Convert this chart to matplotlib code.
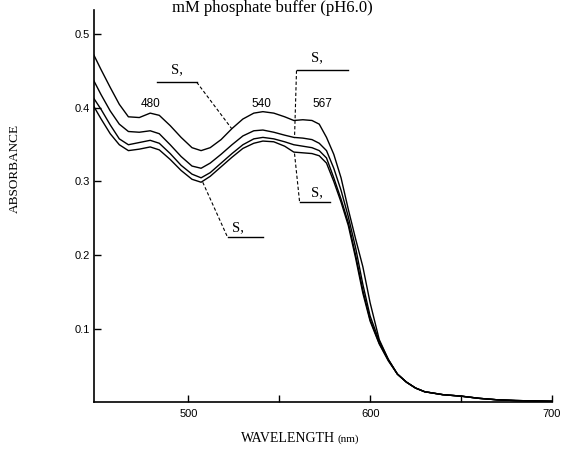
import matplotlib
matplotlib.use("Agg")
import matplotlib.pyplot as plt

# wavelength grid (nm)
wl = [448, 452, 457, 462, 467, 473, 479, 484, 490, 496, 502, 507, 512, 518,
      524, 530, 536, 541, 547, 553, 558, 563, 568, 572, 576, 580, 584, 588,
      592, 596, 600, 605, 610, 615, 620, 625, 630, 640, 650, 660, 670, 680,
      690, 700]

tail = [0.038, 0.027, 0.019, 0.014, 0.010, 0.008, 0.005, 0.003, 0.002, 0.0015, 0.001]

abs_a = [0.472, 0.452, 0.428, 0.405, 0.388, 0.387, 0.393, 0.390, 0.376, 0.360,
         0.346, 0.342, 0.346, 0.357, 0.372, 0.385, 0.393, 0.395, 0.393, 0.388,
         0.383, 0.384, 0.383, 0.378, 0.360, 0.337, 0.305, 0.262, 0.222, 0.184,
         0.135, 0.085, 0.058] + tail
abs_b = [0.437, 0.418, 0.396, 0.378, 0.368, 0.367, 0.369, 0.365, 0.350, 0.334,
         0.321, 0.318, 0.325, 0.337, 0.350, 0.362, 0.369, 0.370, 0.367, 0.363,
         0.360, 0.359, 0.357, 0.352, 0.342, 0.318, 0.288, 0.252, 0.210, 0.160,
         0.117, 0.083, 0.058] + tail
abs_c = [0.413, 0.398, 0.377, 0.358, 0.350, 0.353, 0.356, 0.352, 0.338, 0.322,
         0.310, 0.305, 0.312, 0.325, 0.338, 0.350, 0.358, 0.360, 0.358, 0.354,
         0.350, 0.348, 0.346, 0.342, 0.332, 0.305, 0.276, 0.244, 0.200, 0.152,
         0.112, 0.080, 0.057] + tail
abs_d = [0.402, 0.385, 0.365, 0.350, 0.342, 0.344, 0.347, 0.343, 0.330, 0.315,
         0.303, 0.299, 0.307, 0.320, 0.333, 0.345, 0.352, 0.355, 0.354, 0.348,
         0.340, 0.339, 0.338, 0.335, 0.325, 0.300, 0.272, 0.240, 0.196, 0.148,
         0.110, 0.079, 0.056] + tail

peak_labels = ["480", "540", "567"]
peak_x = [479, 540, 574]

y_ticks = [0.1, 0.2, 0.3, 0.4, 0.5]
y_ticklabels = ["0.1", "0.2", "0.3", "0.4", "0.5"]
x_ticks = [500, 600, 700]
x_minor = [550, 650]

serif = "Liberation Serif"
sans = "Liberation Sans"

fig = plt.figure(figsize=(5.62, 4.54), dpi=100)
ax = fig.add_axes([0.167, 0.1145, 0.815, 0.863])

for series in [abs_a, abs_b, abs_c, abs_d]:
    ax.plot(wl, series, color="black", lw=1.0)

ax.set_xlim(448, 700)
ax.set_ylim(0, 0.533)
ax.spines["top"].set_visible(False)
ax.spines["right"].set_visible(False)
for s in ["left", "bottom"]:
    ax.spines[s].set_linewidth(1.2)

ax.set_yticks(y_ticks)
ax.set_yticklabels(y_ticklabels, fontfamily=sans, fontsize=8)
ax.set_xticks(x_ticks)
ax.set_xticklabels([str(t) for t in x_ticks], fontfamily=sans, fontsize=8)
ax.set_xticks(x_minor, minor=True)
ax.tick_params(axis="both", which="both", direction="in", length=5, width=1)
ax.tick_params(axis="y", pad=3)
ax.tick_params(axis="x", pad=5)

# peak wavelength labels
for lab, x in zip(peak_labels, peak_x):
    ax.text(x, 0.406, lab, fontfamily=sans, fontsize=8.5, ha="center", va="center")

# leader lines for the sample labels
dash = dict(color="black", lw=0.8, ls=(0, (3, 2)))
solid = dict(color="black", lw=1.0)

# upper left -> top curve
ax.plot([482.6, 504.6], [0.435, 0.435], **solid)
ax.plot([504.6, 523.8], [0.435, 0.372], **dash)
ax.text(493.6, 0.443, "S,", fontfamily=serif, fontsize=10.5, ha="center", va="bottom")

# upper right -> second curve
ax.plot([559.5, 587.6], [0.451, 0.451], **solid)
ax.plot([559.5, 558.4], [0.451, 0.359], **dash)
ax.text(571.0, 0.459, "S,", fontfamily=serif, fontsize=10.5, ha="center", va="bottom")

# lower right -> bottom curve
ax.plot([558.4, 561.2], [0.338, 0.272], **dash)
ax.plot([561.2, 577.7], [0.272, 0.272], **solid)
ax.text(570.5, 0.276, "S,", fontfamily=serif, fontsize=10.5, ha="center", va="bottom")

# lower middle -> third curve
ax.plot([507.9, 521.6], [0.299, 0.224], **dash)
ax.plot([521.6, 540.9], [0.224, 0.224], **solid)
ax.text(527.5, 0.228, "S,", fontfamily=serif, fontsize=10.5, ha="center", va="bottom")

fig.text(15 / 562, 1 - 168 / 454, "ABSORBANCE", rotation=90, fontfamily=serif,
         fontsize=9.5, ha="center", va="center")
fig.text(335 / 562, 1 - 439 / 454, "WAVELENGTH", fontfamily=serif, fontsize=10,
         ha="right", va="center")
fig.text(337 / 562, 1 - 439 / 454, "(nm)", fontfamily=serif, fontsize=8,
         ha="left", va="center")

fig.text(272 / 562, 0.999, "mM phosphate buffer (pH6.0)", fontfamily=serif,
         fontsize=12, ha="center", va="top")

fig.savefig("out.png", dpi=100)
